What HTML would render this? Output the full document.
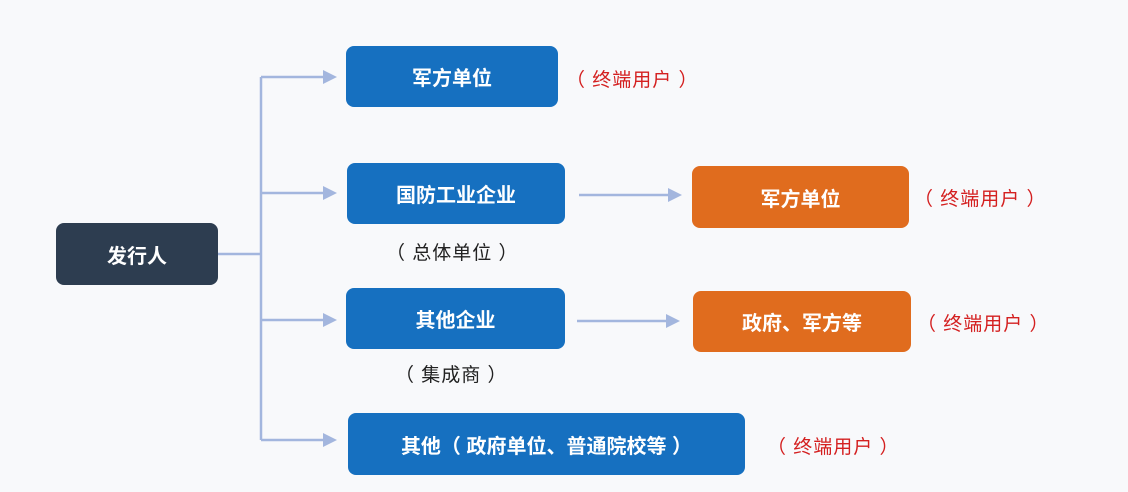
<!DOCTYPE html>
<html><head><meta charset="utf-8"><style>
html,body{margin:0;padding:0;width:1128px;height:492px;background:#f8f9fb;overflow:hidden;font-family:"Liberation Sans","Noto Sans CJK SC",sans-serif}
.b{position:absolute;border-radius:8px;color:#fff;font-weight:bold;font-size:20px;display:flex;align-items:center;justify-content:center}
.blue{background:#1670c0}.org{background:#e06c1e}
.t{position:absolute;font-size:19px;white-space:nowrap;letter-spacing:1px}
.r{color:#d42020}.k{color:#222}
</style></head><body>
<svg width="1128" height="492" style="position:absolute;left:0;top:0">
<g stroke="#a3b6de" stroke-width="2.5" fill="none">
<path d="M218 254H261M261 77V440M261 77H325M261 193H325M261 320H325M261 440H325M579 195H670M577 321H668"/>
</g>
<g fill="#a3b6de">
<path d="M323 70L337 77L323 84Z"/><path d="M323 186L337 193L323 200Z"/><path d="M323 313L337 320L323 327Z"/><path d="M323 433L337 440L323 447Z"/>
<path d="M668 188L682 195L668 202Z"/><path d="M666 314L680 321L666 328Z"/>
</g></svg>
<div class="b" style="left:56px;top:223px;width:162px;height:62px;background:#2d3d50">发行人</div>
<div class="b blue" style="left:346px;top:46px;width:212px;height:61px">军方单位</div>
<div class="b blue" style="left:347px;top:163px;width:218px;height:61px">国防工业企业</div>
<div class="b blue" style="left:346px;top:288px;width:219px;height:61px">其他企业</div>
<div class="b blue" style="left:348px;top:413px;width:397px;height:62px">其他（ 政府单位、普通院校等 ）</div>
<div class="b org" style="left:692px;top:166px;width:217px;height:62px">军方单位</div>
<div class="b org" style="left:693px;top:291px;width:218px;height:61px">政府、军方等</div>
<div class="t r" style="left:566px;top:65px">（ 终端用户 ）</div>
<div class="t r" style="left:914px;top:184px">（ 终端用户 ）</div>
<div class="t r" style="left:917px;top:309px">（ 终端用户 ）</div>
<div class="t r" style="left:767px;top:432px">（ 终端用户 ）</div>
<div class="t k" style="left:386px;top:238px">（ 总体单位 ）</div>
<div class="t k" style="left:395px;top:360px">（ 集成商 ）</div>
</body></html>
